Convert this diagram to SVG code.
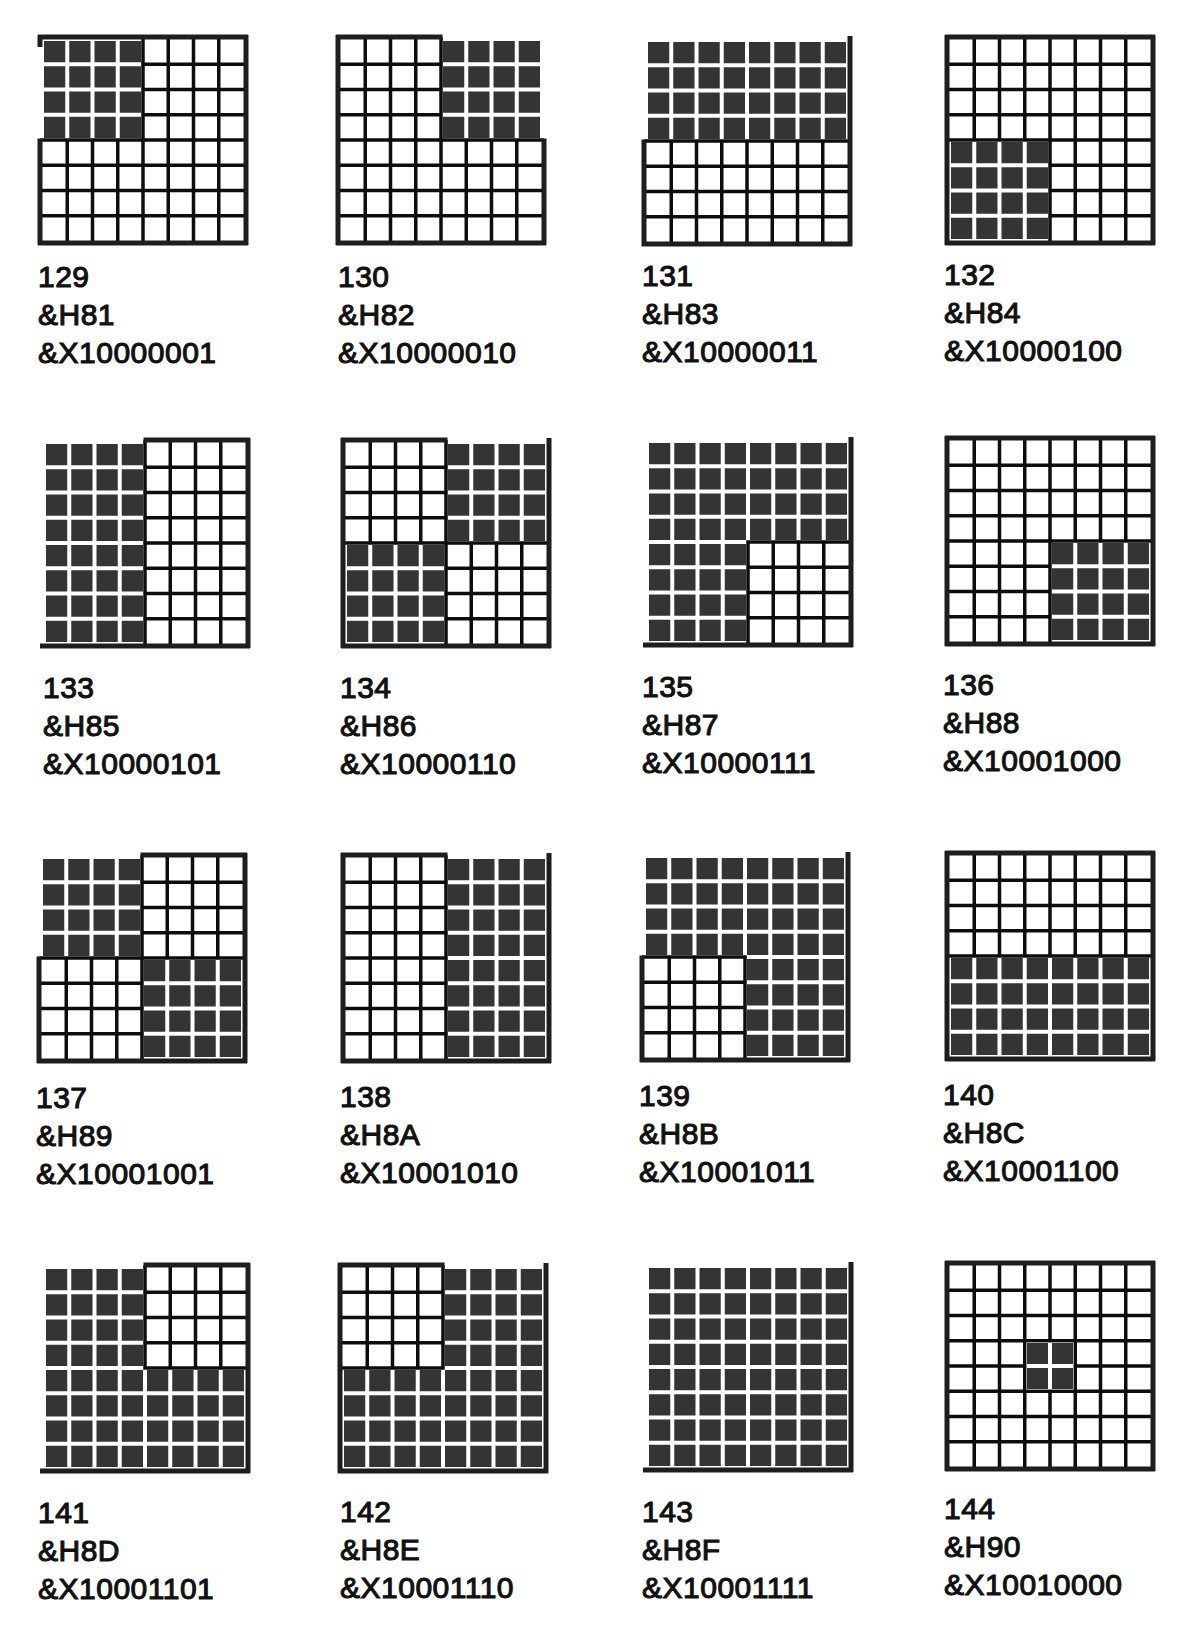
<svg xmlns="http://www.w3.org/2000/svg" width="1202" height="1632" viewBox="0 0 1202 1632">
<style>
.f{fill:#343434}
.g{fill:none;stroke:#0d0d0d;stroke-width:3.5}
.m{fill:none;stroke:#0d0d0d;stroke-width:3.5;stroke-linecap:square}
.fr{fill:none;stroke:#1e1e1e;stroke-width:5}
.lbl{font-family:"Liberation Sans",Arial,sans-serif;font-size:30px;fill:#111;stroke:#111;stroke-width:1.1;letter-spacing:0.5px}
</style>
<defs>
<g id="fr4"><rect class="f" x="2" y="2" width="21.25" height="21.25"/><rect class="f" x="27.25" y="2" width="21.25" height="21.25"/><rect class="f" x="52.5" y="2" width="21.25" height="21.25"/><rect class="f" x="77.75" y="2" width="21.25" height="21.25"/></g>
<g id="qf"><use href="#fr4"/><use href="#fr4" y="25.25"/><use href="#fr4" y="50.5"/><use href="#fr4" y="75.75"/></g>
<path id="qw" class="g" d="M25.25 0V101M50.5 0V101M75.75 0V101M0 25.25H101M0 50.5H101M0 75.75H101"/>
</defs>
<rect width="1202" height="1632" fill="#fff"/>
<g id="connectors"></g>

<g id="n129">
<g transform="translate(38 35)">
<use href="#qf" x="4" y="4"/><use href="#qw" x="105" y="4"/><use href="#qw" x="4" y="105"/><use href="#qw" x="105" y="105"/>
<path class="m" d="M105 4V105M105 105V206M4 105H105M105 105H206"/>
<path class="fr" d="M0 2H210M2 0V12M2 103.5V210M208 0V210M0 208H210"/>
</g>
<text class="lbl" x="38" y="287">129<tspan x="38" dy="38">&amp;H81</tspan><tspan x="38" dy="38">&amp;X10000001</tspan></text>
</g>

<g id="n130">
<g transform="translate(336 35)">
<use href="#qw" x="4" y="4"/><use href="#qf" x="105" y="4"/><use href="#qw" x="4" y="105"/><use href="#qw" x="105" y="105"/>
<path class="m" d="M105 4V105M105 105V206M4 105H105M105 105H206"/>
<path class="fr" d="M0 2H106.5M2 0V210M208 103.5V210M0 208H210"/>
</g>
<text class="lbl" x="338" y="287">130<tspan x="338" dy="38">&amp;H82</tspan><tspan x="338" dy="38">&amp;X10000010</tspan></text>
</g>

<g id="n131">
<g transform="translate(642 36)">
<use href="#qf" x="4" y="4"/><use href="#qf" x="105" y="4"/><use href="#qw" x="4" y="105"/><use href="#qw" x="105" y="105"/>
<path class="m" d="M105 105V206M4 105H105M105 105H206"/>
<path class="fr" d="M2 103.5V210M208 0V210M0 208H210"/>
</g>
<text class="lbl" x="642" y="286">131<tspan x="642" dy="38">&amp;H83</tspan><tspan x="642" dy="38">&amp;X10000011</tspan></text>
</g>

<g id="n132">
<g transform="translate(945 35)">
<use href="#qw" x="4" y="4"/><use href="#qw" x="105" y="4"/><use href="#qf" x="4" y="105"/><use href="#qw" x="105" y="105"/>
<path class="m" d="M105 4V105M105 105V206M4 105H105M105 105H206"/>
<path class="fr" d="M0 2H210M2 0V210M208 0V210M0 208H210"/>
</g>
<text class="lbl" x="944" y="285">132<tspan x="944" dy="38">&amp;H84</tspan><tspan x="944" dy="38">&amp;X10000100</tspan></text>
</g>

<g id="n133">
<g transform="translate(40 438)">
<use href="#qf" x="4" y="4"/><use href="#qw" x="105" y="4"/><use href="#qf" x="4" y="105"/><use href="#qw" x="105" y="105"/>
<path class="m" d="M105 4V105M105 105V206M105 105H206"/>
<path class="fr" d="M103.5 2H210M208 0V210M0 208H210"/>
</g>
<text class="lbl" x="43" y="698">133<tspan x="43" dy="38">&amp;H85</tspan><tspan x="43" dy="38">&amp;X10000101</tspan></text>
</g>

<g id="n134">
<g transform="translate(341 438)">
<use href="#qw" x="4" y="4"/><use href="#qf" x="105" y="4"/><use href="#qf" x="4" y="105"/><use href="#qw" x="105" y="105"/>
<path class="m" d="M105 4V105M105 105V206M4 105H105M105 105H206"/>
<path class="fr" d="M0 2H106.5M2 0V210M208 0V210M0 208H210"/>
</g>
<text class="lbl" x="340" y="698">134<tspan x="340" dy="38">&amp;H86</tspan><tspan x="340" dy="38">&amp;X10000110</tspan></text>
</g>

<g id="n135">
<g transform="translate(643 437)">
<use href="#qf" x="4" y="4"/><use href="#qf" x="105" y="4"/><use href="#qf" x="4" y="105"/><use href="#qw" x="105" y="105"/>
<path class="m" d="M105 105V206M105 105H206"/>
<path class="fr" d="M208 0V210M0 208H210"/>
</g>
<text class="lbl" x="642" y="697">135<tspan x="642" dy="38">&amp;H87</tspan><tspan x="642" dy="38">&amp;X10000111</tspan></text>
</g>

<g id="n136">
<g transform="translate(945 436)">
<use href="#qw" x="4" y="4"/><use href="#qw" x="105" y="4"/><use href="#qw" x="4" y="105"/><use href="#qf" x="105" y="105"/>
<path class="m" d="M105 4V105M105 105V206M4 105H105M105 105H206"/>
<path class="fr" d="M0 2H210M2 0V210M208 0V210M0 208H210"/>
</g>
<text class="lbl" x="943" y="695">136<tspan x="943" dy="38">&amp;H88</tspan><tspan x="943" dy="38">&amp;X10001000</tspan></text>
</g>

<g id="n137">
<g transform="translate(37 853)">
<use href="#qf" x="4" y="4"/><use href="#qw" x="105" y="4"/><use href="#qw" x="4" y="105"/><use href="#qf" x="105" y="105"/>
<path class="m" d="M105 4V105M105 105V206M4 105H105M105 105H206"/>
<path class="fr" d="M103.5 2H210M2 103.5V210M208 0V210M0 208H210"/>
</g>
<text class="lbl" x="36" y="1108">137<tspan x="36" dy="38">&amp;H89</tspan><tspan x="36" dy="38">&amp;X10001001</tspan></text>
</g>

<g id="n138">
<g transform="translate(341 853)">
<use href="#qw" x="4" y="4"/><use href="#qf" x="105" y="4"/><use href="#qw" x="4" y="105"/><use href="#qf" x="105" y="105"/>
<path class="m" d="M105 4V105M105 105V206M4 105H105"/>
<path class="fr" d="M0 2H106.5M2 0V210M208 0V210M0 208H210"/>
</g>
<text class="lbl" x="340" y="1107">138<tspan x="340" dy="38">&amp;H8A</tspan><tspan x="340" dy="38">&amp;X10001010</tspan></text>
</g>

<g id="n139">
<g transform="translate(640 852)">
<use href="#qf" x="4" y="4"/><use href="#qf" x="105" y="4"/><use href="#qw" x="4" y="105"/><use href="#qf" x="105" y="105"/>
<path class="m" d="M105 105V206M4 105H105"/>
<path class="fr" d="M2 103.5V210M208 0V210M0 208H210"/>
</g>
<text class="lbl" x="639" y="1106">139<tspan x="639" dy="38">&amp;H8B</tspan><tspan x="639" dy="38">&amp;X10001011</tspan></text>
</g>

<g id="n140">
<g transform="translate(945 851)">
<use href="#qw" x="4" y="4"/><use href="#qw" x="105" y="4"/><use href="#qf" x="4" y="105"/><use href="#qf" x="105" y="105"/>
<path class="m" d="M105 4V105M4 105H105M105 105H206"/>
<path class="fr" d="M0 2H210M2 0V210M208 0V210M0 208H210"/>
</g>
<text class="lbl" x="943" y="1105">140<tspan x="943" dy="38">&amp;H8C</tspan><tspan x="943" dy="38">&amp;X10001100</tspan></text>
</g>

<g id="n141">
<g transform="translate(40 1263)">
<use href="#qf" x="4" y="4"/><use href="#qw" x="105" y="4"/><use href="#qf" x="4" y="105"/><use href="#qf" x="105" y="105"/>
<path class="m" d="M105 4V105M105 105H206"/>
<path class="fr" d="M103.5 2H210M208 0V210M0 208H210"/>
</g>
<text class="lbl" x="38" y="1523">141<tspan x="38" dy="38">&amp;H8D</tspan><tspan x="38" dy="38">&amp;X10001101</tspan></text>
</g>

<g id="n142">
<g transform="translate(338 1263)">
<use href="#qw" x="4" y="4"/><use href="#qf" x="105" y="4"/><use href="#qf" x="4" y="105"/><use href="#qf" x="105" y="105"/>
<path class="m" d="M105 4V105M4 105H105"/>
<path class="fr" d="M0 2H106.5M2 0V210M208 0V210M0 208H210"/>
</g>
<text class="lbl" x="340" y="1522">142<tspan x="340" dy="38">&amp;H8E</tspan><tspan x="340" dy="38">&amp;X10001110</tspan></text>
</g>

<g id="n143">
<g transform="translate(643 1262)">
<use href="#qf" x="4" y="4"/><use href="#qf" x="105" y="4"/><use href="#qf" x="4" y="105"/><use href="#qf" x="105" y="105"/>
<path class="fr" d="M208 0V210M0 208H210"/>
</g>
<text class="lbl" x="642" y="1522">143<tspan x="642" dy="38">&amp;H8F</tspan><tspan x="642" dy="38">&amp;X10001111</tspan></text>
</g>

<g id="n144">
<g transform="translate(945 1261)">
<use href="#qw" x="4" y="4"/><use href="#qw" x="105" y="4"/><use href="#qw" x="4" y="105"/><use href="#qw" x="105" y="105"/>
<path class="m" d="M105 4V105M105 105V206M4 105H105M105 105H206"/>
<rect x="81.5" y="81.5" width="47" height="47" fill="#fff"/>
<rect class="f" x="81.75" y="81.75" width="21.25" height="21.25"/><rect class="f" x="107" y="81.75" width="21.25" height="21.25"/>
<rect class="f" x="81.75" y="107" width="21.25" height="21.25"/><rect class="f" x="107" y="107" width="21.25" height="21.25"/>
<path class="fr" d="M0 2H210M2 0V210M208 0V210M0 208H210"/>
</g>
<text class="lbl" x="944" y="1519">144<tspan x="944" dy="38">&amp;H90</tspan><tspan x="944" dy="38">&amp;X10010000</tspan></text>
</g>
</svg>
